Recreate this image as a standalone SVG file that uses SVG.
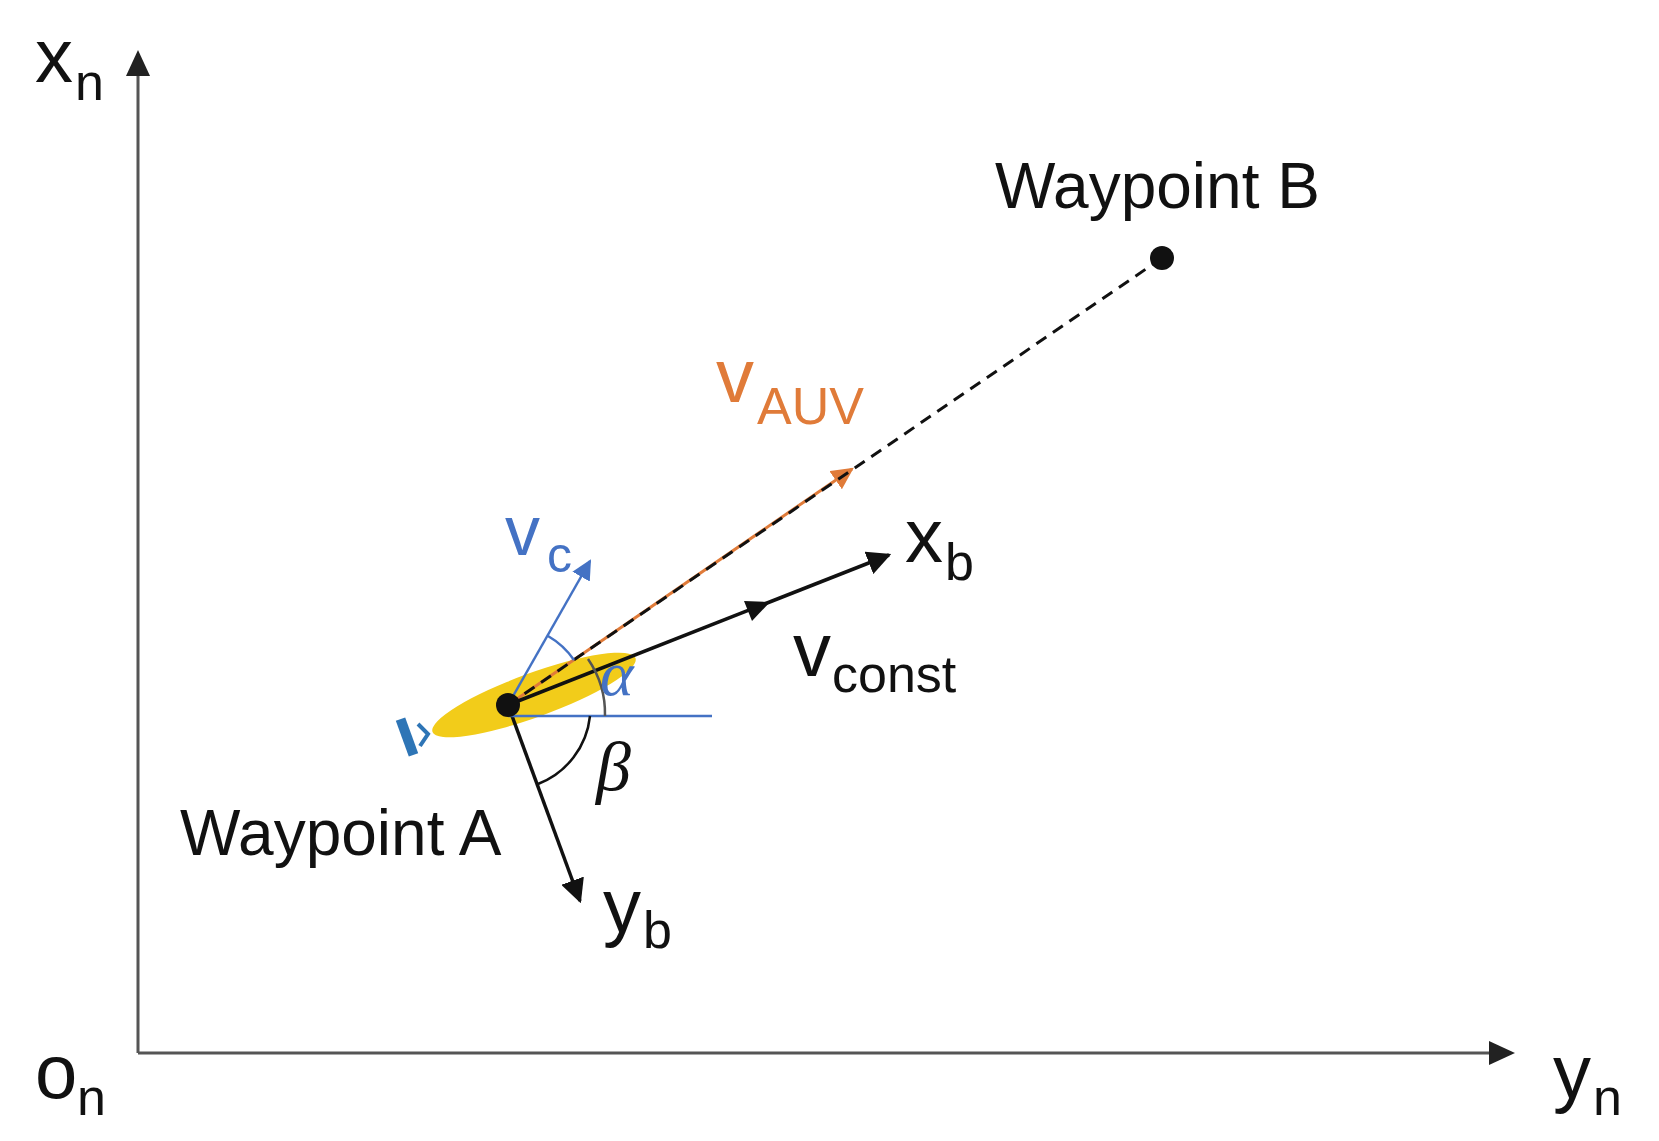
<svg xmlns="http://www.w3.org/2000/svg" width="1659" height="1141" viewBox="0 0 1659 1141">
<style>
text{font-family:"Liberation Sans",Arial,sans-serif;fill:#111}
.ax{stroke:#555;stroke-width:3;fill:none}
.bk{stroke:#111;stroke-width:3.5;fill:none}
.bl{stroke:#4472c4;stroke-width:2.5;fill:none}
</style>
<defs>
<marker id="ag" viewBox="0 0 10 10" refX="9" refY="5" markerWidth="8" markerHeight="8" markerUnits="userSpaceOnUse" orient="auto"><path d="M0,0L10,5L0,10z" fill="#222"/></marker>
<marker id="ab" viewBox="0 0 10 10" refX="9" refY="5" markerWidth="24" markerHeight="24" markerUnits="userSpaceOnUse" orient="auto"><path d="M0,0L10,5L0,10z" fill="#111"/></marker>
<marker id="abl" viewBox="0 0 10 10" refX="9" refY="5" markerWidth="20" markerHeight="20" markerUnits="userSpaceOnUse" orient="auto"><path d="M0,0L10,5L0,10z" fill="#4472c4"/></marker>
<marker id="aor" viewBox="0 0 10 10" refX="9" refY="5" markerWidth="22" markerHeight="22" markerUnits="userSpaceOnUse" orient="auto"><path d="M0,0L10,5L0,10z" fill="#e07b39"/></marker>
</defs>
<g id="axes">
<line class="ax" x1="138" y1="1053" x2="138" y2="55" marker-end="url(#ag)" style="stroke-width:3" />
<path d="M138,50 l-12,26 h24z" fill="#222"/>
<line class="ax" x1="138" y1="1053" x2="1490" y2="1053"/>
<path d="M1515,1053 l-26,-12 v24z" fill="#222"/>
<text x="35" y="82" font-size="76">x</text><text x="75" y="100" font-size="52">n</text>
<text x="35" y="1098" font-size="76">o</text><text x="77" y="1115" font-size="52">n</text>
<text x="1553" y="1098" font-size="76">y</text><text x="1593" y="1115" font-size="52">n</text>
</g>
<g id="auv">
<ellipse cx="534" cy="695" rx="108" ry="22" fill="#f2cc1a" transform="rotate(-20 534 695)"/>
<rect x="402" y="718" width="10" height="38" fill="#2e75b6" transform="rotate(-20 407 737)"/>
<path d="M418,724 l10,10 -8,12" fill="none" stroke="#2e75b6" stroke-width="4"/>
</g>
<g id="connectors">
<line x1="508" y1="705" x2="852" y2="469" stroke="#e07b39" stroke-width="3" marker-end="url(#aor)"/>
<line x1="508" y1="705" x2="1162" y2="258" stroke="#111" stroke-width="3" stroke-dasharray="12,8"/>
<line class="bk" x1="508" y1="705" x2="889" y2="555" marker-end="url(#ab)"/>
<path d="M770,602 l-26,-1 8,20z" fill="#111"/>
<line class="bl" x1="508" y1="705" x2="590" y2="561" marker-end="url(#abl)"/>
<line class="bk" x1="508" y1="705" x2="580" y2="901" marker-end="url(#ab)"/>
<line class="bl" x1="508" y1="716" x2="712" y2="716"/>
<path class="bl" d="M548,636 A80,80 0 0 1 574,660"/>
<path d="M605,716 A97,97 0 0 0 588,659" fill="none" stroke="#555" stroke-width="2.5"/>
<path class="bk" style="stroke-width:2.5" d="M590,716 A82,82 0 0 1 538,784"/>
</g>
<g id="waypointB">
<circle cx="1162" cy="258" r="12" fill="#111"/>
<text x="995" y="208" font-size="64">Waypoint B</text>
</g>
<g id="waypointA">
<circle cx="508" cy="705" r="12" fill="#111"/>
<text x="180" y="855" font-size="64">Waypoint A</text>
</g>
<g id="labels">
<text x="716" y="402" font-size="76" style="fill:#e07b39">v</text><text x="757" y="424" font-size="52" style="fill:#e07b39">AUV</text>
<text x="505" y="555" font-size="70" style="fill:#4472c4">v</text><text x="547" y="572" font-size="50" style="fill:#4472c4">c</text>
<text x="905" y="562" font-size="76">x</text><text x="945" y="580" font-size="52">b</text>
<text x="793" y="676" font-size="76">v</text><text x="832" y="692" font-size="52">const</text>
<text x="600" y="695" font-size="64" font-style="italic" style="fill:#4472c4;font-family:'Liberation Serif',serif">α</text>
<text x="596" y="790" font-size="70" font-style="italic" style="font-family:'Liberation Serif',serif">β</text>
<text x="603" y="932" font-size="76">y</text><text x="643" y="948" font-size="52">b</text>
</g>
</svg>
